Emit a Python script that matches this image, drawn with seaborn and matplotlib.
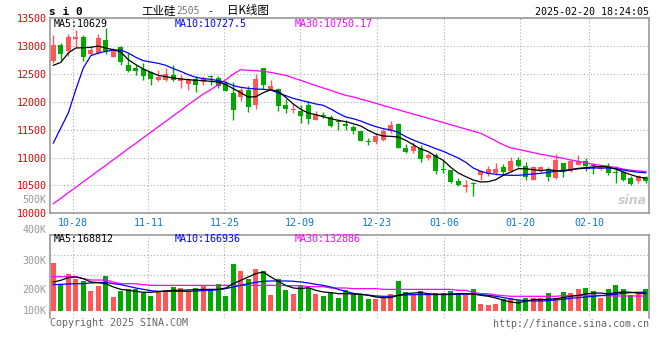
import numpy as np
import pandas as pd
import matplotlib
matplotlib.use('Agg')
import matplotlib.pyplot as plt
import seaborn as sns

# 工业硅2505 日K线 (2024-10-23 .. 2025-02-20)
opens = [12729, 13028, 12908, 13136, 13166, 12867, 12878, 13106, 12807, 12986,
         12669, 12609, 12597, 12537, 12388, 12400, 12489, 12370, 12328, 12418,
         12352, 12454, 12430, 12340, 12160, 12088, 12220, 11951, 12609, 12232,
         12232, 11939, 11861, 11831, 11939, 11681, 11759, 11723, 11657, 11609,
         11544, 11472, 11298, 11280, 11322, 11484, 11603, 11172, 11113, 11172,
         10993, 11041, 10789, 10771, 10574, 10472, 10544, 10682, 10712, 10724,
         10831, 10765, 10963, 10843, 10604, 10783, 10801, 10634, 10903, 10754,
         10873, 10945, 10873, 10801, 10843, 10730, 10742, 10634, 10574, 10652]
closes = [13028, 12867, 13166, 13166, 12801, 12938, 13148, 12908, 12920, 12711,
          12549, 12561, 12459, 12412, 12448, 12501, 12388, 12430, 12412, 12310,
          12430, 12442, 12280, 12202, 11861, 12220, 11909, 12412, 12310, 12280,
          11933, 11879, 11879, 11753, 11699, 11771, 11747, 11574, 11645, 11574,
          11472, 11304, 11286, 11382, 11472, 11592, 11172, 11101, 11202, 10981,
          11053, 10765, 10771, 10562, 10514, 10514, 10532, 10754, 10795, 10795,
          10736, 10933, 10855, 10646, 10825, 10825, 10646, 10963, 10754, 10933,
          10933, 10855, 10843, 10855, 10724, 10718, 10604, 10532, 10664, 10574]
highs = [13208, 13058, 13226, 13298, 13208, 13010, 13226, 13327, 12968, 12998,
         12878, 12669, 12699, 12561, 12579, 12609, 12669, 12477, 12430, 12460,
         12459, 12489, 12459, 12370, 12358, 12250, 12280, 12501, 12609, 12388,
         12250, 12052, 11963, 11939, 12022, 11843, 11813, 11759, 11693, 11681,
         11592, 11484, 11352, 11442, 11520, 11663, 11621, 11244, 11280, 11232,
         11083, 11083, 10963, 10783, 10634, 10604, 10562, 10783, 10855, 10903,
         10891, 11005, 11005, 10915, 10855, 10843, 10825, 11065, 10903, 10945,
         11053, 10993, 10903, 10873, 10897, 10843, 10765, 10664, 10694, 10676]
lows = [12699, 12759, 12819, 12980, 12729, 12849, 12860, 12867, 12801, 12669,
        12537, 12477, 12400, 12310, 12370, 12370, 12370, 12250, 12220, 12178,
        12310, 12310, 12250, 12190, 11681, 12022, 11819, 11879, 12238, 12220,
        11843, 11801, 11801, 11621, 11603, 11675, 11711, 11544, 11502, 11502,
        11424, 11292, 11232, 11244, 11292, 11442, 11172, 11083, 11083, 10921,
        10963, 10706, 10724, 10544, 10484, 10382, 10316, 10592, 10676, 10694,
        10694, 10754, 10825, 10592, 10604, 10742, 10586, 10616, 10646, 10742,
        10861, 10754, 10712, 10783, 10694, 10544, 10574, 10514, 10544, 10544]
ma5 = [12657, 12711, 12878, 12968, 12974, 12980, 13004, 12968, 12938, 12896,
       12759, 12669, 12591, 12531, 12477, 12454, 12430, 12412, 12400, 12388,
       12382, 12370, 12358, 12310, 12238, 12166, 12088, 12094, 12166, 12220,
       12190, 12082, 11963, 11867, 11801, 11771, 11735, 11699, 11669, 11645,
       11609, 11568, 11490, 11424, 11388, 11382, 11370, 11310, 11232, 11155,
       11107, 11023, 10951, 10825, 10724, 10658, 10598, 10562, 10568, 10604,
       10682, 10742, 10801, 10801, 10783, 10765, 10783, 10765, 10754, 10783,
       10807, 10819, 10831, 10843, 10831, 10795, 10742, 10694, 10652, 10629]
ma10 = [11262, 11532, 11801, 12220, 12609, 12831, 12878, 12908, 12932, 12932,
        12878, 12801, 12741, 12717, 12693, 12657, 12597, 12549, 12489, 12442,
        12418, 12406, 12382, 12352, 12292, 12262, 12244, 12232, 12226, 12214,
        12160, 12112, 12064, 12028, 11998, 11963, 11939, 11873, 11795, 11729,
        11699, 11657, 11603, 11556, 11520, 11496, 11454, 11376, 11316, 11262,
        11214, 11161, 11113, 11053, 10993, 10915, 10813, 10754, 10718, 10700,
        10688, 10682, 10682, 10694, 10706, 10718, 10736, 10754, 10771, 10783,
        10801, 10807, 10813, 10813, 10813, 10801, 10777, 10754, 10738, 10728]
ma30 = [10173, 10269, 10370, 10466, 10568, 10664, 10765, 10861, 10963, 11059,
        11161, 11256, 11358, 11454, 11556, 11651, 11753, 11849, 11951, 12046,
        12142, 12220, 12310, 12400, 12501, 12579, 12567, 12561, 12549, 12531,
        12501, 12477, 12430, 12388, 12340, 12292, 12250, 12208, 12160, 12118,
        12090, 12050, 12015, 11975, 11935, 11898, 11860, 11820, 11782, 11745,
        11706, 11668, 11630, 11590, 11552, 11513, 11475, 11436, 11370, 11300,
        11230, 11175, 11149, 11119, 11089, 11059, 11035, 11011, 10987, 10957,
        10933, 10903, 10879, 10861, 10843, 10825, 10795, 10775, 10760, 10750]
# 成交量 (K)
volume = [457, 257, 352, 308, 283, 190, 238, 337, 137, 194,
          206, 206, 171, 143, 184, 203, 229, 222, 187, 219,
          238, 213, 257, 143, 448, 381, 302, 403, 381, 152,
          302, 200, 162, 238, 219, 162, 143, 178, 124, 200,
          171, 159, 114, 114, 130, 162, 286, 181, 152, 187,
          152, 171, 171, 190, 159, 165, 210, 67, 57, 67,
          114, 121, 102, 127, 127, 127, 171, 127, 181, 171,
          210, 219, 190, 124, 210, 248, 210, 152, 178, 210]
vma5 = [276, 292, 318, 324, 308, 276, 270, 260, 229, 206,
        197, 187, 178, 178, 184, 190, 197, 197, 200, 203,
        206, 206, 206, 219, 260, 292, 324, 356, 371, 324,
        283, 244, 219, 213, 222, 197, 181, 175, 165, 165,
        162, 159, 149, 133, 127, 127, 149, 165, 171, 175,
        165, 159, 159, 162, 165, 165, 162, 149, 140, 124,
        102, 86, 76, 95, 108, 108, 111, 117, 127, 140,
        149, 162, 171, 171, 162, 175, 181, 178, 171, 165]
vma10 = [251, 254, 257, 260, 260, 267, 270, 273, 260, 251,
         235, 219, 206, 194, 187, 187, 187, 187, 187, 190,
         194, 197, 203, 213, 229, 244, 260, 273, 283, 286,
         286, 286, 283, 276, 267, 254, 244, 229, 206, 187,
         168, 159, 152, 143, 140, 140, 149, 152, 156, 156,
         156, 156, 156, 156, 159, 162, 162, 156, 149, 140,
         127, 114, 105, 98, 95, 95, 98, 105, 111, 121,
         127, 133, 140, 146, 152, 159, 168, 175, 178, 178]
vma30 = [327, 327, 327, 327, 308, 295, 295, 295, 276, 260,
         260, 260, 251, 244, 244, 244, 244, 244, 244, 244,
         244, 244, 244, 244, 244, 244, 244, 244, 244, 244,
         244, 241, 241, 241, 232, 232, 232, 219, 219, 219,
         213, 213, 213, 213, 206, 206, 206, 206, 206, 206,
         206, 206, 206, 206, 197, 197, 178, 165, 165, 152,
         146, 140, 140, 140, 140, 140, 140, 140, 146, 146,
         146, 149, 149, 149, 143, 143, 143, 143, 143, 143]
date_labels = ['10-28', '11-11', '11-25', '12-09', '12-23', '01-06', '01-20', '02-10']
price_ticks = [10000, 10500, 11000, 11500, 12000, 12500, 13000, 13500]
vol_labels = ['400K', '300K', '200K', '100K']

# ---- 布局 (像素) ----
W, H = 660, 360
RED = '#ff5757'
GREEN = '#00a800'
GRID = '#aaaaaa'
MONO = 'DejaVu Sans Mono'
CJK = ['Noto Sans CJK SC', 'DejaVu Sans']
FS = 7.2

plt.rcParams['font.family'] = [MONO, 'Noto Sans CJK SC']


def fx(x):
    return x / W


def fy(y):
    return 1 - y / H


fig = plt.figure(figsize=(6.6, 3.6), dpi=100)
fig.patch.set_facecolor('white')
ax = fig.add_axes([fx(50), fy(213.3), fx(649) - fx(50), fy(18.4) - fy(213.3)])
axv = fig.add_axes([fx(50), fy(318), fx(649) - fx(50), fy(234.7) - fy(318)])

idx = np.arange(len(closes))
o = np.array(opens)
c = np.array(closes)
up = c >= o
colors = np.where(up, RED, GREEN)

df = pd.DataFrame({'i': idx, 'MA5': ma5, 'MA10': ma10, 'MA30': ma30,
                   'vol': volume, 'VMA5': vma5, 'VMA10': vma10, 'VMA30': vma30})

# K线
ax.vlines(idx, lows, highs, colors=colors, lw=1.0, zorder=2)
ax.bar(idx, np.maximum(np.abs(c - o), 18), bottom=np.minimum(o, c),
       width=0.72, color=colors, linewidth=0, zorder=3)
sns.lineplot(data=df, x='i', y='MA30', color='#ff00ff', lw=0.9, ax=ax, zorder=4)
sns.lineplot(data=df, x='i', y='MA10', color='#0000ff', lw=0.9, ax=ax, zorder=4)
sns.lineplot(data=df, x='i', y='MA5', color='black', lw=0.9, ax=ax, zorder=5)

# 成交量
axv.bar(df['i'], df['vol'], width=0.72, color=colors, linewidth=0, zorder=2)
sns.lineplot(data=df, x='i', y='VMA30', color='#ff00ff', lw=0.9, ax=axv, zorder=4)
sns.lineplot(data=df, x='i', y='VMA10', color='#0000ff', lw=0.9, ax=axv, zorder=4)
sns.lineplot(data=df, x='i', y='VMA5', color='black', lw=0.9, ax=axv, zorder=5)

tick_pos = [2.59, 12.67, 22.8, 32.93, 43.12, 52.13, 62.27, 71.49]
for a in (ax, axv):
    a.set_xlim(-0.44, 79.43)
    a.set_xlabel('')
    a.set_ylabel('')
    a.set_axisbelow(True)
    for s in a.spines.values():
        s.set_color('#999999')
        s.set_linewidth(1.2)
    a.tick_params(length=0)
    a.set_xticks(tick_pos)
    a.grid(True, ls=(0, (1, 2)), color=GRID, lw=0.8)

ax.set_ylim(10000, 13500)
ax.set_yticks(price_ticks)
ax.set_yticklabels([str(v) for v in price_ticks], color='#e60000', fontsize=FS, family=MONO)
ax.tick_params(axis='y', pad=2.4)
ax.set_xticklabels(date_labels, color='#0a78d2', fontsize=FS, family=MONO)
ax.tick_params(axis='x', pad=3.2)

axv.set_ylim(-67, 727)
axv.set_yticks([340, 530])
axv.set_yticklabels(['', ''])
axv.set_xticklabels([''] * len(tick_pos))
axv.spines['bottom'].set_visible(False)


# 文字
def txt(x, y, s, **kw):
    kw.setdefault('fontsize', FS)
    kw.setdefault('family', MONO)
    kw.setdefault('va', 'center')
    fig.text(fx(x), fy(y), s, **kw)


txt(49, 12, 's i 0', fontsize=8, weight='bold')
txt(141.7, 10.5, '工业硅', fontsize=8.3, family=CJK)
txt(176.7, 11, '2505', color='#777777', fontsize=7)
txt(210.5, 11, '-', ha='center')
txt(226.7, 10.5, '日K线图', fontsize=8.3, family=CJK)
txt(649, 12.3, '2025-02-20 18:24:05', ha='right')

txt(54, 24, 'MA5:10629', color='black')
txt(175, 24, 'MA10:10727.5', color='#0000ff')
txt(295, 24, 'MA30:10750.17', color='#ff00ff')
txt(54, 238.7, 'MA5:168812', color='black')
txt(175, 238.7, 'MA10:166936', color='#0000ff')
txt(295, 238.7, 'MA30:132886', color='#ff00ff')

txt(46.7, 200, '500K', ha='right', color='#999999')
for lab, y in zip(vol_labels, [230.3, 261, 290.3, 310.7]):
    txt(46.7, y, lab, ha='right', color='#999999')

txt(50, 323, 'Copyright 2025 SINA.COM', color='#666666')
txt(649, 324, 'http://finance.sina.com.cn', ha='right', color='#666666')
txt(618, 200, 'sina', fontsize=9, style='italic', weight='bold', color='#cccccc',
    family='DejaVu Sans')

fig.savefig('out.png', dpi=100, facecolor='white')
